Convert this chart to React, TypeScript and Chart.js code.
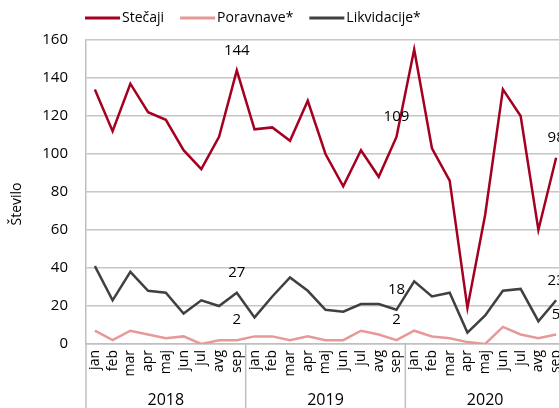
import React, { useEffect, useRef } from "react";
import { Chart, registerables } from "chart.js";

Chart.register(...registerables);

const categories = [
  "jan", "feb", "mar", "apr", "maj", "jun", "jul", "avg", "sep",
  "jan", "feb", "mar", "apr", "maj", "jun", "jul", "avg", "sep",
  "jan", "feb", "mar", "apr", "maj", "jun", "jul", "avg", "sep",
];
const years = ["2018", "2019", "2020"];
const monthsPerYear = 9;

const stecaji = [134, 112, 137, 122, 118, 102, 92, 109, 144, 113, 114, 107, 128, 100, 83, 102, 88, 109, 155, 103, 86, 19, 68, 134, 120, 60, 98];
const poravnave = [7, 2, 7, 5, 3, 4, 0, 2, 2, 4, 4, 2, 4, 2, 2, 7, 5, 2, 7, 4, 3, 1, 0, 9, 5, 3, 5];
const likvidacije = [41, 23, 38, 28, 27, 16, 23, 20, 27, 14, 25, 35, 28, 18, 17, 21, 21, 18, 33, 25, 27, 6, 15, 28, 29, 12, 23];

const seriesNames = ["Stečaji", "Poravnave*", "Likvidacije*"];
const seriesColors = ["#A50021", "#E69A98", "#404040"];
const labelIndexes = [8, 17, 26];
const yTitle = "Število";
const yTicks = [0, 20, 40, 60, 80, 100, 120, 140, 160];

const FONT = "'Open Sans', 'Noto Sans', sans-serif";

const overlay = {
  id: "overlay",
  afterDraw(chart: any) {
    const ctx = chart.ctx;
    const xs = chart.scales.x;
    ctx.save();
    // y title
    ctx.fillStyle = "#000";
    ctx.font = `14px ${FONT}`;
    ctx.textAlign = "center";
    ctx.textBaseline = "middle";
    ctx.save();
    ctx.translate(17.5, 204);
    ctx.rotate(-Math.PI / 2);
    ctx.fillText(yTitle, 0, 0);
    ctx.restore();

    // legend
    let lx = 85;
    const ly = 18;
    ctx.textAlign = "left";
    chart.data.datasets.forEach((ds: any) => {
      ctx.strokeStyle = ds.borderColor;
      ctx.lineWidth = 3;
      ctx.beginPath();
      ctx.moveTo(lx, ly);
      ctx.lineTo(lx + 35, ly);
      ctx.stroke();
      ctx.fillStyle = "#000";
      ctx.font = `14px ${FONT}`;
      ctx.fillText(ds.label, lx + 37, ly);
      lx += 37 + ctx.measureText(ds.label).width + 16;
    });

    // year separators and labels
    ctx.strokeStyle = "#bfbfbf";
    ctx.lineWidth = 1.5;
    for (let g = 0; g <= years.length; g++) {
      const x = xs.getPixelForValue(g * monthsPerYear - 0.5);
      ctx.beginPath();
      ctx.moveTo(x, chart.chartArea.bottom);
      ctx.lineTo(x, chart.height);
      ctx.stroke();
    }
    ctx.fillStyle = "#000";
    ctx.font = `16px ${FONT}`;
    ctx.textAlign = "center";
    years.forEach((yr, g) => {
      const a = xs.getPixelForValue(g * monthsPerYear);
      const b = xs.getPixelForValue(g * monthsPerYear + monthsPerYear - 1);
      ctx.fillText(yr, (a + b) / 2, 400);
    });

    // data labels
    ctx.font = `15px ${FONT}`;
    chart.data.datasets.forEach((ds: any, i: number) => {
      const meta = chart.getDatasetMeta(i);
      labelIndexes.forEach((idx) => {
        const el = meta.data[idx];
        if (!el) return;
        ctx.fillText(String(ds.data[idx]), el.x, el.y - 20);
      });
    });
    ctx.restore();
  },
};

export default function App() {
  const ref = useRef<HTMLCanvasElement>(null);
  useEffect(() => {
    if (!ref.current) return;
    const series = [stecaji, poravnave, likvidacije];
    const chart = new Chart(ref.current, {
      type: "line",
      data: {
        labels: categories,
        datasets: series.map((d, i) => ({
          label: seriesNames[i],
          data: d,
          borderColor: seriesColors[i],
          backgroundColor: seriesColors[i],
          borderWidth: 2.5,
          pointRadius: 0,
          tension: 0,
        })),
      },
      options: {
        responsive: false,
        animation: false,
        devicePixelRatio: 1,
        layout: { padding: { left: 0, top: 40, right: 15, bottom: 0 } },
        plugins: { legend: { display: false }, tooltip: { enabled: false } },
        scales: {
          x: {
            offset: true,
            grid: { display: false, drawTicks: false, offset: true },
            border: { display: true, color: "#bfbfbf", width: 1.5 },
            ticks: {
              autoSkip: false,
              maxRotation: 90,
              minRotation: 90,
              padding: 6,
              color: "#000",
              font: { family: FONT, size: 14 },
            },
            afterFit: (s: any) => {
              s.height = 64;
            },
          },
          y: {
            min: 0,
            max: 160,
            afterBuildTicks: (s: any) => {
              s.ticks = yTicks.map((v) => ({ value: v }));
            },
            grid: { color: "#c6c6c6", lineWidth: 1.5, drawTicks: false },
            border: { display: true, color: "#bfbfbf", width: 1.5 },
            ticks: {
              padding: 18,
              color: "#000",
              font: { family: FONT, size: 15 },
            },
            afterFit: (s: any) => {
              s.width = 86;
            },
          },
        },
      },
      plugins: [overlay],
    });
    return () => chart.destroy();
  }, []);
  return (
    <div style={{ position: "fixed", left: 0, top: 0, width: 559, height: 408, overflow: "hidden", background: "#fff" }}>
      <canvas ref={ref} width={580} height={408} style={{ display: "block" }} />
    </div>
  );
}
